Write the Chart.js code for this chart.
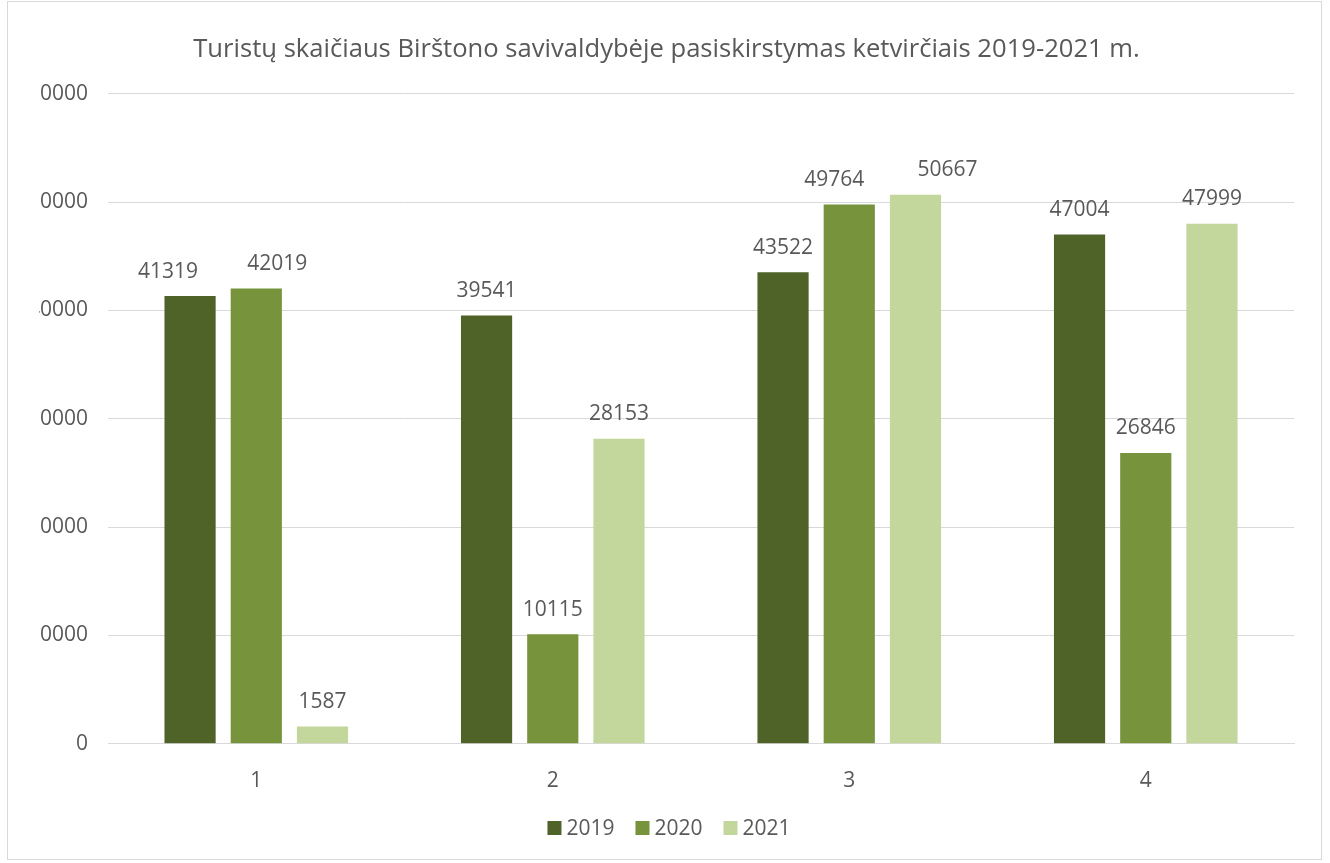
<!DOCTYPE html>
<html>
<head>
<meta charset="utf-8">
<script src="https://cdn.jsdelivr.net/npm/chart.js@4"></script>
<style>
  html, body { margin: 0; padding: 0; background: #fff; }
  #wrap { position: absolute; left: 7px; top: 1px; width: 1315px; height: 859px; border: 1px solid #d9d9d9; box-sizing: border-box; }
  canvas { display: block; }
</style>
</head>
<body>
<div id="wrap"><canvas id="c"></canvas></div>
<script>
const categories = ['1', '2', '3', '4'];
const seriesNames = ['2019', '2020', '2021'];
const values2019 = [41319, 39541, 43522, 47004];
const values2020 = [42019, 10115, 49764, 26846];
const values2021 = [1587, 28153, 50667, 47999];
const colors = ['#4f6228', '#77933c', '#c3d69b'];
const titleText = 'Turistų skaičiaus Birštono savivaldybėje pasiskirstymas ketvirčiais 2019-2021 m.';

const FONT = '"Open Sans", sans-serif';
const TXT = '#595959';

const labelPlugin = {
  id: 'valueLabels',
  afterDatasetsDraw(chart) {
    // horizontal nudges of a few labels (as placed in the original chart)
    const nudge = [[-22, 0, 0, 0], [21, 0, -15, 0], [0, 0, 32, 0]];
    const ctx = chart.ctx;
    ctx.save();
    ctx.font = '21px ' + FONT;
    ctx.fillStyle = TXT;
    ctx.textAlign = 'center';
    ctx.textBaseline = 'bottom';
    chart.data.datasets.forEach((ds, i) => {
      const meta = chart.getDatasetMeta(i);
      meta.data.forEach((bar, j) => {
        ctx.fillText(String(ds.data[j]), bar.x + nudge[i][j], bar.y - 14);
      });
    });
    ctx.restore();
  }
};

// Legend drawn from the dataset labels/colours, Excel-style spacing
const legendPlugin = {
  id: 'excelLegend',
  afterDraw(chart) {
    const ctx = chart.ctx;
    ctx.save();
    ctx.font = '21px ' + FONT;
    ctx.textBaseline = 'middle';
    ctx.textAlign = 'left';
    const box = 14, gapBoxText = 5, gapItems = 21;
    const items = chart.data.datasets.map(ds => ({ text: ds.label, color: ds.backgroundColor, w: ctx.measureText(ds.label).width }));
    let total = items.reduce((s, it) => s + box + gapBoxText + it.w, 0) + gapItems * (items.length - 1);
    let x = 661 - total / 2;
    const y = 826;
    items.forEach(it => {
      ctx.fillStyle = it.color;
      ctx.fillRect(x, y - box / 2, box, box);
      x += box + gapBoxText;
      ctx.fillStyle = TXT;
      ctx.fillText(it.text, x, y + 1);
      x += it.w + gapItems;
    });
    ctx.restore();
  }
};

const canvas = document.getElementById('c');
canvas.width = 1313; canvas.height = 857;

new Chart(canvas, {
  type: 'bar',
  data: {
    labels: categories,
    datasets: [values2019, values2020, values2021].map((d, i) => ({
      label: seriesNames[i],
      data: d,
      backgroundColor: colors[i],
      borderWidth: 0,
      categoryPercentage: 0.67,
      barPercentage: 0.773
    }))
  },
  options: {
    responsive: false,
    animation: false,
    devicePixelRatio: 1,
    layout: { padding: { left: 31, right: 27, top: 24, bottom: 48 } },
    plugins: {
      title: {
        display: true,
        text: titleText,
        color: TXT,
        font: { family: FONT, size: 25.6, weight: 'normal' },
        padding: { top: 8, bottom: 29 }
      },
      legend: { display: false },
      tooltip: { enabled: false }
    },
    scales: {
      x: {
        grid: { display: false },
        border: { display: true, color: '#d9d9d9' },
        ticks: { color: TXT, font: { family: FONT, size: 21 }, padding: 17 }
      },
      y: {
        min: 0, max: 60000,
        clip: false,
        ticks: { stepSize: 10000, color: TXT, font: { family: FONT, size: 21 }, padding: 20,
                 callback: v => String(v) },
        grid: { color: '#d9d9d9', drawTicks: false },
        border: { display: false },
        afterFit: axis => { axis.width -= 31; }
      }
    }
  },
  plugins: [labelPlugin, legendPlugin]
});
</script>
</body>
</html>
